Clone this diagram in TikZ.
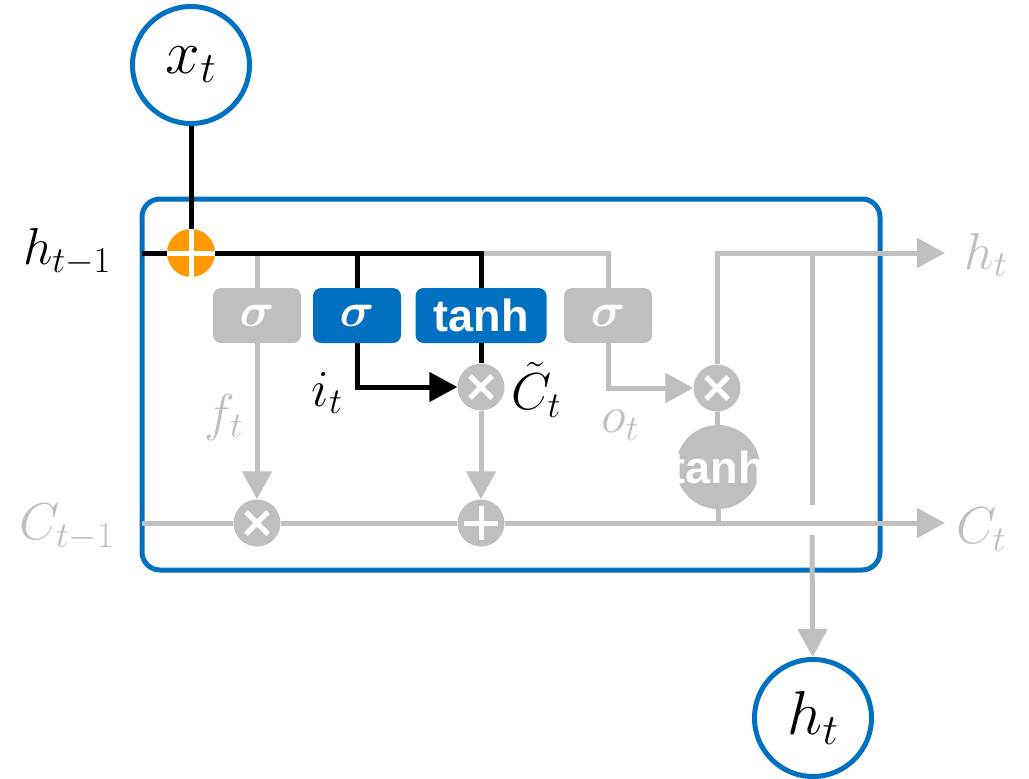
\RequirePackage{fix-cm}
\documentclass[tikz,border=0pt]{standalone}
\usepackage{fontspec}
\setsansfont{Liberation Sans}
\usepackage{bm}
\usetikzlibrary{arrows.meta,calc}

\definecolor{lstmblue}{RGB}{0,112,192}
\definecolor{lstmgray}{RGB}{191,191,191}
\definecolor{lstmorange}{RGB}{255,153,0}

\tikzset{
  flow/.style={line width=5pt},
  arr/.style={flow, -{Triangle[length=28pt,width=29pt]}},
  iocirc/.style={circle, draw=lstmblue, line width=5pt, minimum size=117pt, inner sep=0pt,
    font=\fontsize{62}{66}\selectfont},
  cellbox/.style={draw=lstmblue, line width=5pt, rounded corners=18pt, minimum width=738pt,
    minimum height=371pt, inner sep=0pt},
  gatebox/.style={rectangle, rounded corners=8pt, minimum width=88pt, minimum height=55pt,
    inner sep=0pt, text=white, font=\fontsize{48}{52}\selectfont},
  tanhfont/.style={font=\sffamily\bfseries\fontsize{45}{48}\selectfont},
  opcirc/.style={circle, fill=lstmgray, minimum size=47pt, inner sep=0pt},
  plusop/.style={opcirc, path picture={
    \draw[white, line width=5pt]
      ([xshift=-17pt]path picture bounding box.center) -- ([xshift=17pt]path picture bounding box.center)
      ([yshift=-17pt]path picture bounding box.center) -- ([yshift=17pt]path picture bounding box.center);}},
  mixop/.style={opcirc, fill=lstmorange, minimum size=48pt, path picture={
    \draw[white, line width=5pt]
      ([xshift=-25pt]path picture bounding box.center) -- ([xshift=25pt]path picture bounding box.center)
      ([yshift=-25pt]path picture bounding box.center) -- ([yshift=25pt]path picture bounding box.center);}},
  timesop/.style={opcirc, path picture={
    \draw[white, line width=5pt]
      ([shift={(-11pt,-11pt)}]path picture bounding box.center) -- ([shift={(11pt,11pt)}]path picture bounding box.center)
      ([shift={(-11pt,11pt)}]path picture bounding box.center) -- ([shift={(11pt,-11pt)}]path picture bounding box.center);}},
  lbl/.style={inner sep=0pt, font=\fontsize{52}{56}\selectfont},
}

\begin{document}
\begin{tikzpicture}[x=1pt,y=-1pt]
\useasboundingbox (0,0) rectangle (1029,779);

% Cell
\node[cellbox] (cell) at (511,384.5) {};

% Input and output
\node[iocirc] (xt) at (191,65) {$x_t$};
\node[iocirc] (ht) at (813,718) {$h_t$};

% Gates
\node[gatebox, fill=lstmgray] (fgate) at (257,315.5) {$\bm{\sigma}$};
\node[gatebox, fill=lstmblue] (igate) at (357,315.5) {$\bm{\sigma}$};
\node[gatebox, fill=lstmblue, minimum width=131pt, tanhfont] (cgate) at (481,315.5) {tanh};
\node[gatebox, fill=lstmgray] (ogate) at (608,315.5) {$\bm{\sigma}$};

% Pointwise operations
\node[mixop] (mix) at (191,253) {};
\node[timesop] (imul) at (481,387) {};
\node[timesop] (fmul) at (257,523) {};
\node[plusop] (cadd) at (481,523) {};
\node[timesop] (omul) at (717,388) {};
\node[opcirc, minimum size=84pt] (otanh) at (718,467) {};
\node[tanhfont, text=white, inner sep=0pt] (otanhtext) at (718,467) {tanh};

% Bus points
\coordinate (hin) at (142,253);
\coordinate (fbus) at (257,253);
\coordinate (ibus) at (357,253);
\coordinate (cbus) at (481,253);
\coordinate (cin) at (142,523);
\coordinate (cout) at (945,523);
\coordinate (hout) at (945,253);
\coordinate (hsplit) at (812,253);
\coordinate (gaptop) at (812,505);
\coordinate (gapbot) at (812,535);

% Gray flows
\draw[flow, lstmgray] (cbus) -| (ogate);
\draw[flow, lstmgray] (fbus) -- (fgate);
\draw[arr, lstmgray] (fgate) -- (fmul);
\draw[arr, lstmgray] (imul) -- (cadd);
\draw[flow, lstmgray] (cin) -- (fmul);
\draw[flow, lstmgray] (fmul) -- (cadd);
\draw[arr, lstmgray] (cadd) -- (cout);
\draw[arr, lstmgray] (ogate) |- (omul);
\draw[flow, lstmgray] (omul) -- (otanh);
\draw[flow, lstmgray] (otanh) -- (otanh |- cout);
\draw[arr, lstmgray] (omul) |- (hout);
\draw[flow, lstmgray] (hsplit) -- (gaptop);
\draw[arr, lstmgray] (gapbot) -- (ht);

% Black flows
\draw[flow] (xt) -- (mix);
\draw[flow] (hin) -- (mix);
\draw[flow] (mix) -- (cbus) -- (cgate);
\draw[flow] (ibus) -- (igate);
\draw[arr] (igate) |- (imul);
\draw[flow] (cgate) -- (imul);

% Labels
\node[lbl] (lhprev) at (67,252) {$h_{t-1}$};
\node[lbl, text=lstmgray] (lcprev) at (67,527) {$C_{t-1}$};
\node[lbl, text=lstmgray] (lf) at (224,417) {$f_t$};
\node[lbl] (li) at (327,393) {$i_t$};
\node[lbl] (lctilde) at (536,390) {$\tilde{C}_t$};
\node[lbl, text=lstmgray] (lo) at (620,425) {$o_t$};
\node[lbl, text=lstmgray] (lhnext) at (986,255) {$h_t$};
\node[lbl, text=lstmgray] (lcnext) at (981,530) {$C_t$};
\end{tikzpicture}
\end{document}
